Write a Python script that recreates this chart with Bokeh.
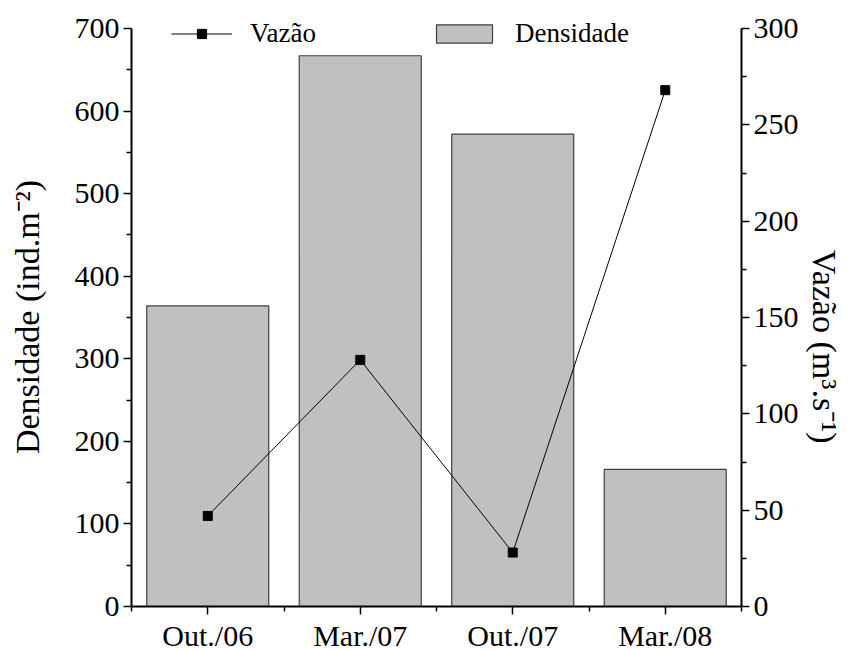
from bokeh.plotting import figure
from bokeh.models import (LinearAxis, Range1d, FixedTicker, Legend, LegendItem,
                          ColumnDataSource)
from bokeh.embed import file_html
from bokeh.resources import INLINE

categories = ["Out./06", "Mar./07", "Out./07", "Mar./08"]
densidade = [364, 667, 572, 166]
vazao = [47, 128, 28, 268]
left_ticks = [0, 100, 200, 300, 400, 500, 600, 700]
left_minor = [50, 150, 250, 350, 450, 550, 650]
right_ticks = [0, 50, 100, 150, 200, 250, 300]
right_minor = [25, 75, 125, 175, 225, 275]
left_max = 700
right_max = 300

# frame extends a little above the top of the axes to host the legend
AXIS_PX = 578
FRAME_PX = 596
headroom = FRAME_PX / AXIS_PX

xpos = list(range(len(categories)))
x_minor = [i - 0.5 for i in range(len(categories) + 1)]
src = ColumnDataSource(dict(x=xpos, dens=densidade, vaz=vazao))

FONT = "Liberation Serif"
NB = "\u00a0"

p = figure(frame_width=610, frame_height=FRAME_PX,
           x_range=Range1d(-0.5, len(categories) - 0.5),
           y_range=Range1d(0, left_max * headroom),
           output_backend="svg", toolbar_location=None,
           min_border_left=131, min_border_top=10, min_border_right=100,
           min_border_bottom=40)
p.extra_y_ranges = {"vaz": Range1d(0, right_max * headroom)}
p.xgrid.visible = False
p.ygrid.visible = False
p.outline_line_color = None
p.background_fill_color = "white"
p.border_fill_color = "white"

bars = p.vbar(x="x", top="dens", width=0.8, source=src,
              fill_color="#c0c0c0", line_color="#404040", line_width=1.2)
line = p.line(x="x", y="vaz", source=src, y_range_name="vaz",
              line_color="black", line_width=1)
pts = p.scatter(x="x", y="vaz", source=src, y_range_name="vaz",
                marker="square", size=9, fill_color="black", line_color="black")

p.xaxis.ticker = FixedTicker(ticks=xpos, minor_ticks=x_minor)
p.xaxis.major_label_overrides = {i: c for i, c in zip(xpos, categories)}
p.yaxis.ticker = FixedTicker(ticks=left_ticks, minor_ticks=left_minor)
p.yaxis.bounds = (0, left_max)
p.yaxis.axis_label = "Densidade (ind.m\u207b\u00b2)" + NB * 2

raxis = LinearAxis(y_range_name="vaz", bounds=(0, right_max),
                   ticker=FixedTicker(ticks=right_ticks, minor_ticks=right_minor),
                   axis_label=NB * 9 + "Vaz\u00e3o (m\u00b3.s\u207b\u00b9)")
p.add_layout(raxis, "right")

for ax in [p.xaxis[0], p.yaxis[0], raxis]:
    ax.axis_line_color = "black"
    ax.axis_line_width = 2
    ax.major_tick_in = 0
    ax.major_tick_out = 8
    ax.minor_tick_in = 0
    ax.minor_tick_out = 5
    ax.major_tick_line_width = 1.5
    ax.minor_tick_line_width = 1.5
    ax.major_tick_line_color = "black"
    ax.minor_tick_line_color = "black"
    ax.major_label_text_font = FONT
    ax.major_label_text_font_size = "30px"
    ax.major_label_text_color = "black"
    ax.axis_label_text_font = FONT
    ax.axis_label_text_font_size = "34px"
    ax.axis_label_text_font_style = "normal"
    ax.axis_label_text_color = "black"
    ax.major_label_standoff = 4
p.yaxis[0].axis_label_standoff = 26
raxis.axis_label_standoff = 4

leg_y = FRAME_PX - 39
leg1 = Legend(items=[LegendItem(label="Vaz\u00e3o", renderers=[line, pts])],
              location=(40, leg_y), glyph_width=61, glyph_height=23,
              label_standoff=18, padding=0, margin=0, spacing=0,
              border_line_color=None, background_fill_alpha=0,
              label_text_font=FONT, label_text_font_size="27px",
              label_text_color="black")
leg2 = Legend(items=[LegendItem(label="Densidade", renderers=[bars])],
              location=(298, leg_y), glyph_width=70, glyph_height=23,
              label_standoff=16, padding=0, margin=0, spacing=0,
              border_line_color=None, background_fill_alpha=0,
              label_text_font=FONT, label_text_font_size="27px",
              label_text_color="black")
p.add_layout(leg1)
p.add_layout(leg2)

open("out.html", "w").write(file_html(p, INLINE))
